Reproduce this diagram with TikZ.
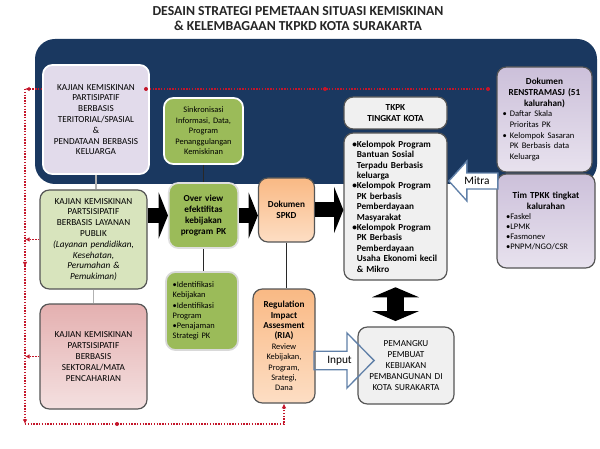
\documentclass[tikz,border=0pt]{standalone}
\usepackage{fontspec}
\setmainfont{Carlito}
\usetikzlibrary{arrows.meta,shapes.arrows,decorations.markings}

\definecolor{navyband}{RGB}{26,56,96}
\definecolor{boxline}{RGB}{85,85,85}
\definecolor{lavlight}{RGB}{226,219,235}
\definecolor{lavtop}{RGB}{204,192,218}
\definecolor{lavbot}{RGB}{232,226,238}
\definecolor{greendark}{RGB}{155,187,89}
\definecolor{greenlight}{RGB}{216,228,189}
\definecolor{pinktop}{RGB}{228,176,176}
\definecolor{pinkbot}{RGB}{244,224,224}
\definecolor{orangetop}{RGB}{249,185,132}
\definecolor{orangebot}{RGB}{253,222,196}
\definecolor{grainfill}{RGB}{240,240,240}
\definecolor{dotred}{RGB}{196,22,42}
\definecolor{arrowblue}{RGB}{96,128,168}
\definecolor{linkdark}{RGB}{40,40,40}

\begin{document}
\begin{tikzpicture}[x=0.75pt,y=-0.75pt,
  box/.style={draw=boxline,line width=0.9pt,rounded corners=7pt,inner sep=2pt,align=center,
    font=\fontsize{6.9}{8.1}\selectfont},
  lightbox/.style={box,draw=white,line width=1.3pt},
  grainbox/.style={box,fill=grainfill},
  lavbox/.style={box,top color=lavtop,bottom color=lavbot},
  orangebox/.style={box,top color=orangetop,bottom color=orangebot},
  link/.style={draw=linkdark,line width=1.2pt},
  softlink/.style={draw=gray!60,line width=1.2pt},
  reddots/.style={draw=dotred,line width=1.1pt,densely dotted},
  redlink/.style={reddots,-{Latex[length=3.5pt,width=3.5pt]}},
  blockarr/.style={line width=11.25pt,black,-{Triangle[width=34.5pt,length=7pt]}},
  dblarr/.style={line width=12.75pt,black,{Triangle[width=35pt,length=7.5pt]}-{Triangle[width=35pt,length=7.5pt]}},
  hollowarr/.style={single arrow,draw=arrowblue,line width=1pt,inner sep=1pt,font=\fontsize{8.5}{10}\selectfont}
]
% Background
\fill[white] (0,0) rectangle (600,449);
\useasboundingbox (0,0) rectangle (600,449);

% Title
\node[font=\bfseries\fontsize{10.3}{11.25}\selectfont,align=center,text=black!85] (title) at (298,19)
  {DESAIN STRATEGI PEMETAAN SITUASI KEMISKINAN\\ \& KELEMBAGAAN TKPKD KOTA SURAKARTA};

% Navy band
\fill[navyband,rounded corners=15pt] (35,39) rectangle (597,184);

% Boxes, left column
\node[lightbox,fill=lavlight,text width=74pt,minimum width=79.5pt,minimum height=81.75pt] (ter) at (96,119.5)
  {KAJIAN KEMISKINAN\\ PARTISIPATIF\\ BERBASIS\\ TERITORIAL/SPASIAL\\ \&\\ PENDATAAN BERBASIS\\ KELUARGA};
\node[box,fill=greenlight,text width=74pt,minimum width=80.25pt,minimum height=74.25pt] (lay) at (93.5,239.5)
  {KAJIAN KEMISKINAN\\ PARTSISIPATIF\\ BERBASIS LAYANAN\\ PUBLIK\\ \itshape (Layanan pendidikan,\\ Kesehatan,\\ Perumahan \&\\ Pemukiman)};
\node[box,top color=pinktop,bottom color=pinkbot,text width=74pt,minimum width=80.25pt,minimum height=78.75pt] (sek) at (93.5,356.5)
  {KAJIAN KEMISKINAN\\ PARTSISIPATIF\\ BERBASIS\\ SEKTORAL/MATA\\ PENCAHARIAN\par\vspace*{8pt}};

% Boxes, green column
\node[lightbox,fill=greendark,text width=55pt,minimum width=59.25pt,minimum height=49.5pt,font=\fontsize{6.3}{7.9}\selectfont] (sink) at (203.5,131)
  {Sinkronisasi\\ Informasi, Data,\\ Program\\ Penanggulangan\\ Kemiskinan};
\node[lightbox,draw=gray!25,fill=greendark,text width=48pt,minimum width=51.75pt,minimum height=48.75pt,font=\bfseries\fontsize{6.9}{8.1}\selectfont] (over) at (203.5,215.5)
  {Over view\\ efektifitas\\ kebijakan\\ program PK};
\node[lightbox,draw=gray!30,fill=greendark,align=left,text width=44pt,minimum width=54pt,minimum height=58.5pt,font=\fontsize{6.3}{7.7}\selectfont] (idf) at (202,311)
  {\textbullet Identifikasi\\ Kebijakan\\ \textbullet Identifikasi\\ Program\\ \textbullet Penajaman\\ Strategi PK};

% Boxes, orange column
\node[orangebox,text width=38pt,minimum width=41.25pt,minimum height=48pt,font=\bfseries\fontsize{6.9}{8.1}\selectfont] (spkd) at (286.5,210)
  {Dokumen\\ SPKD};
\node[orangebox,text width=42pt,minimum width=46.5pt,minimum height=85.5pt,font=\bfseries\fontsize{6.9}{7.8}\selectfont] (ria) at (284,346)
  {Regulation\\ Impact\\ Assesment\\ (RIA)\\ \mdseries\fontsize{6.3}{7.8}\selectfont Review\\ Kebijakan,\\ Program,\\ Srategi,\\ Dana};

% Boxes, TKPK column
\node[grainbox,text width=70pt,minimum width=77.25pt,minimum height=24pt,font=\bfseries\fontsize{6.9}{8.1}\selectfont] (tkpk) at (395.5,113)
  {TKPK\\ TINGKAT KOTA};
\node[grainbox,align=left,text width=64pt,minimum width=77.25pt,minimum height=110.25pt,font=\bfseries\fontsize{6.9}{7.8}\selectfont] (kel) at (395.5,206.5)
  {\leftskip=3pt \leavevmode\llap{\textbullet}Kelompok Program\\ Bantuan Sosial\\ Terpadu Berbasis\\ keluarga\\
   \leavevmode\llap{\textbullet}Kelompok Program\\ PK berbasis\\ Pemberdayaan\\ Masyarakat\\
   \leavevmode\llap{\textbullet}Kelompok Program\\ PK Berbasis\\ Pemberdayaan\\ Usaha Ekonomi kecil\\ \& Mikro\par};
\node[grainbox,text width=66pt,minimum width=72pt,minimum height=57.75pt] (pem) at (406,365.5)
  {PEMANGKU\\ PEMBUAT\\ KEBIJAKAN\\ PEMBANGUNAN DI\\ KOTA SURAKARTA\par\vspace*{4pt}};

% Boxes, right column
\node[lavbox,align=left,text width=62pt,minimum width=71.25pt,minimum height=78.75pt] (renstra) at (544.5,119.5)
  {\centering\bfseries Dokumen\\ RENSTRAMASJ (51\\ kalurahan)\par
   \raggedright\leftskip=5pt\mdseries\fontsize{6.4}{7.9}\selectfont
   \leavevmode\llap{\textbullet\ }Daftar Skala\\ Prioritas PK\\ \leavevmode\llap{\textbullet\ }Kelompok Sasaran\\ PK Berbasis data\\ Keluarga\par};
\node[lavbox,align=left,text width=60pt,minimum width=73.5pt,minimum height=70.5pt] (tim) at (546,221)
  {\centering\bfseries Tim TPKK tingkat\\ kalurahan\par
   \raggedright\mdseries\fontsize{6.4}{7.6}\selectfont
   \textbullet Faskel\\ \textbullet LPMK\\ \textbullet Fasmonev\\ \textbullet PNPM/NGO/CSR\par\vspace*{12pt}};

% Connectors
\draw[link] (sink.south) -- (over.north);
\draw[link] (over.south) -- (over.south |- idf.north);
\draw[link] (spkd.south) -- (spkd.south |- ria.north);
\draw[softlink] (ter.south) -- (ter.south |- lay.north);
\draw[softlink] (lay.south) -- (sek.north);

% Red dotted feedback
\coordinate (rEnd) at (490,89);
\coordinate (lTop) at (25,89);
\coordinate (lBot) at (25,424);
\draw[reddots] (rEnd) -- (rEnd -| ter.east);
\draw[redlink] (ter.west |- lTop) -- (lTop);
\draw[redlink,postaction={decorate},decoration={markings,mark=at position 0.53 with {\arrow[dotred]{Latex[length=3.5pt,width=3.5pt]}}}] (lTop) -- (lBot);
\draw[redlink] (lBot) -| (ria.south);
\draw[redlink] (lay.west) -- (lay.west -| lTop);
\draw[redlink] (sek.west) -- (sek.west -| lTop);
\foreach \dx/\dy in {146/89,325/89,488/89,117/424}
  \fill[dotred] (\dx,\dy) circle (2);

% Block arrows
\draw[blockarr] (lay.east |- over.west) -- (over.west);
\draw[blockarr] (over.east) -- (over.east -| spkd.west);
\draw[blockarr] (spkd.east) -- (spkd.east -| kel.west);
\draw[dblarr,shorten <=5pt,shorten >=4pt] (kel.south) -- (kel.south |- pem.north);

% Hollow arrows
\node[hollowarr,fill=white,shape border rotate=180,minimum height=36.75pt,minimum width=30pt,
  single arrow head extend=6.75pt,single arrow tip angle=96,anchor=tip] (mitra) at (448,181) {Mitra};
\node[hollowarr,minimum height=45pt,minimum width=41.25pt,
  single arrow head extend=9.75pt,single arrow tip angle=91,anchor=tip] (input) at (375,360.5) {Input};
\end{tikzpicture}
\end{document}
